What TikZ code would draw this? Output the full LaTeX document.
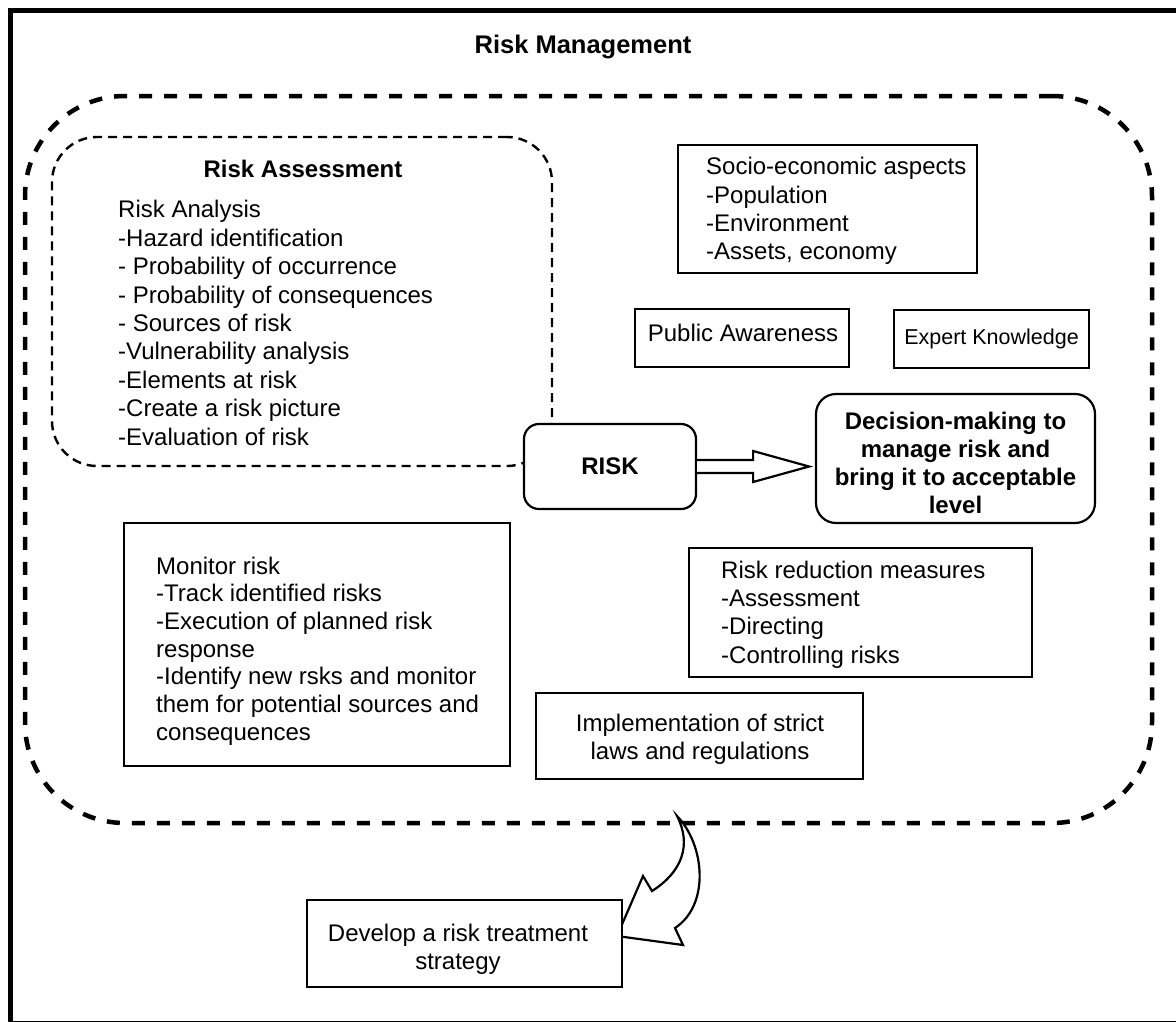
\documentclass[tikz,border=0pt]{standalone}
\usepackage{fontspec}
\setmainfont{Liberation Sans}
\usetikzlibrary{calc}
\begin{document}
\begin{tikzpicture}[x=1pt,y=-1pt,
  plain/.style={font=\fontsize{24}{28.4}\selectfont, inner sep=0pt, align=left},
  heading/.style={font=\fontsize{24}{28.2}\selectfont\bfseries, inner sep=0pt, align=center},
  box/.style={draw, line width=2.2pt, fill=white, inner sep=0pt},
  roundbox/.style={box, rounded corners=#1},
  roundbox/.default=15pt,
  region/.style={draw, inner sep=0pt},
  hollow/.style={draw, line width=2.2pt, fill=white, line join=miter}
]
\useasboundingbox (0,0) rectangle (1176,1021);

% page frame
\draw[line width=5pt] (10.8,10.8) rectangle (1195,1023);

% title
\node[heading, font=\fontsize{25.5}{30}\selectfont\bfseries] (title) at (583,47) {Risk Management};

% risk management region
\node[region, line width=4.5pt, dash pattern=on 13pt off 12pt, rounded corners=100pt,
      minimum width=1127pt, minimum height=727pt] (mgmt) at (588.5,459.5) {};

% risk assessment region
\node[region, line width=2.4pt, dash pattern=on 9pt off 6pt, rounded corners=45pt,
      minimum width=500pt, minimum height=329pt] (assess) at (302,301.5) {};
\node[heading] (assesstitle) at (303,169) {Risk Assessment};
\node[plain, anchor=west] (assesslist) at (118,323) {Risk Analysis\\-Hazard identification\\- Probability of occurrence\\- Probability of consequences\\- Sources of risk\\-Vulnerability analysis\\-Elements at risk\\-Create a risk picture\\-Evaluation of risk};

% socio-economic aspects
\node[box, minimum width=299pt, minimum height=128pt] (socio) at (827.5,209) {};
\node[plain, anchor=west] (sociotext) at (706,211) {Socio-economic aspects\\-Population\\-Environment\\-Assets, economy};

% awareness and knowledge
\node[box, minimum width=214pt, minimum height=58pt] (public) at (742,338) {};
\node[plain] (publictext) at (743,333) {Public Awareness};
\node[box, plain, font=\fontsize{21.5}{26}\selectfont, minimum width=195pt, minimum height=58pt] (expert) at (991.5,339) {Expert Knowledge};

% central risk and decision
\node[roundbox=15pt, heading, draw, line width=2.2pt, fill=white, minimum width=172pt, minimum height=85pt] (risk) at (610,466.5) {RISK};
\node[roundbox=20pt, heading, draw, line width=2.2pt, fill=white, minimum width=279pt, minimum height=129pt] (decision) at (955.5,458.5) {};
\node[heading] (decisiontext) at (955.5,463) {Decision-making to\\manage risk and\\bring it to acceptable\\level};

% hollow arrow from risk to decision
\draw[hollow] ($(risk.east)+(0,-6.5)$) -- ($(risk.east)+(56,-6.5)$) -- ($(risk.east)+(56,-15.5)$)
  -- ($(risk.east)+(112,0)$) -- ($(risk.east)+(56,15.5)$) -- ($(risk.east)+(56,6.5)$) -- ($(risk.east)+(0,6.5)$);

% risk reduction measures
\node[box, minimum width=343pt, minimum height=129pt] (reduction) at (860.5,612.5) {};
\node[plain, anchor=west] (reductiontext) at (721,614.5) {Risk reduction measures\\-Assessment\\-Directing\\-Controlling risks};

% laws and regulations
\node[box, minimum width=327pt, minimum height=86pt] (laws) at (699.5,736) {};
\node[plain, align=center] (lawstext) at (700,739) {Implementation of strict\\laws and regulations};

% monitoring
\node[box, minimum width=386pt, minimum height=243pt] (monitor) at (317,644.5) {};
\node[plain, font=\fontsize{24}{27.7}\selectfont, anchor=west] (monitortext) at (156,651) {Monitor risk\\-Track identified risks\\-Execution of planned risk\\response\\-Identify new rsks and monitor\\them for potential sources and\\consequences};

% curved hollow arrow leaving the management region
\coordinate (cstart) at (677,816);
\coordinate (ctip) at (617,936);
\draw[hollow] (cstart) .. controls (692,845) and (682,872) .. (652,891) -- (643,876) -- (ctip)
  -- (683,945) -- (675,928) .. controls (710,905) and (705,845) .. (cstart) -- cycle;

% treatment strategy
\node[box, minimum width=315pt, minimum height=87pt] (develop) at (464.5,943.5) {};
\node[plain, align=center] (developtext) at (458,949) {Develop a risk treatment\\strategy};
\end{tikzpicture}
\end{document}
